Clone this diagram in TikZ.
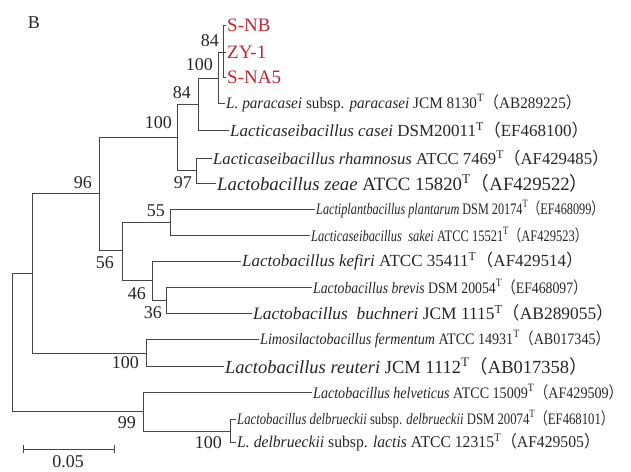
\documentclass[tikz,border=0pt]{standalone}
\usepackage{fontspec}
\setmainfont{Liberation Serif}
\newfontfamily\cjk{Noto Sans CJK SC}
\usepackage{graphicx}
\usetikzlibrary{positioning, arrows.meta}
\definecolor{strainred}{RGB}{190,40,50}
\definecolor{treegray}{RGB}{70,70,70}
\newcommand{\typestr}{\textsuperscript{T}}
\newcommand{\accnum}[1]{{\cjk （}#1{\cjk ）}}
\newcommand{\condtext}[2]{\scalebox{#1}[1]{#2}}
\tikzset{
    branch/.style={draw=treegray, line width=0.9pt},
    leaf/.style={anchor=west, inner sep=1pt, text=black!85, font=\fontsize{#1}{#1}\selectfont},
    strain/.style={anchor=west, inner sep=1pt, text=strainred, font=\fontsize{19}{19}\selectfont},
    boot/.style={inner sep=0pt, text=black!85, font=\fontsize{18}{18}\selectfont}
}

\begin{document}
\begin{tikzpicture}[x=1pt, y=-1pt]
        \useasboundingbox (0,0) rectangle (631,471);

        % Panel letter
        \node[boot] (panel) at (34,23) {B};

        % Internal nodes of the tree
        \coordinate (root) at (12,342);
        \coordinate (A) at (32,273);
        \coordinate (B) at (99,193);
        \coordinate (C) at (177,137);
        \coordinate (E) at (198,104);
        \coordinate (F) at (218,78);
        \coordinate (G) at (223,52);
        \coordinate (H) at (196,170);
        \coordinate (D) at (122,250);
        \coordinate (I) at (170,222);
        \coordinate (J) at (152,280);
        \coordinate (K) at (166,300);
        \coordinate (R) at (146,353);
        \coordinate (L) at (143,411);
        \coordinate (M) at (230,431);

        % Isolates of this study
        \node[strain] (snb) at (226,25) {S-NB};
        \node[strain] (zy) at (226,52) {ZY-1};
        \node[strain] (sna) at (226,77) {S-NA5};

        % Reference strains
        \node[leaf=16] (para) at (225,103) {\condtext{0.95}{\textit{L. paracasei} subsp. \textit{paracasei} JCM 8130\typestr\accnum{AB289225}}};
        \node[leaf=17] (casei) at (229,130) {\textit{Lacticaseibacillus casei} DSM20011\typestr\accnum{EF468100}};
        \node[leaf=16.7] (rham) at (212,158) {\textit{Lacticaseibacillus rhamnosus} ATCC 7469\typestr\accnum{AF429485}};
        \node[leaf=18.8] (zeae) at (216,183) {\textit{Lactobacillus zeae} ATCC 15820\typestr\accnum{AF429522}};
        \node[leaf=16] (plant) at (315,209) {\condtext{0.765}{\textit{Lactiplantbacillus plantarum} DSM 20174\typestr\accnum{EF468099}}};
        \node[leaf=16] (sakei) at (310,235) {\condtext{0.78}{\textit{Lacticaseibacillus\ \ sakei} ATCC 15521\typestr\accnum{AF429523}}};
        \node[leaf=17] (kefiri) at (241,261) {\textit{Lactobacillus kefiri} ATCC 35411\typestr\accnum{AF429514}};
        \node[leaf=16] (brevis) at (312,287) {\condtext{0.86}{\textit{Lactobacillus brevis} DSM 20054\typestr\accnum{EF468097}}};
        \node[leaf=17.4] (buch) at (252,313) {\textit{Lactobacillus\ \ buchneri} JCM 1115\typestr\accnum{AB289055}};
        \node[leaf=16] (ferm) at (259,339) {\condtext{0.88}{\textit{Limosilactobacillus fermentum} ATCC 14931\typestr\accnum{AB017345}}};
        \node[leaf=18.5] (reut) at (224,366) {\textit{Lactobacillus reuteri} JCM 1112\typestr\accnum{AB017358}};
        \node[leaf=16] (helv) at (312,392) {\condtext{0.88}{\textit{Lactobacillus helveticus} ATCC 15009\typestr\accnum{AF429509}}};
        \node[leaf=16] (delb) at (236,419) {\condtext{0.795}{\textit{Lactobacillus delbrueckii} subsp. \textit{delbrueckii} DSM 20074\typestr\accnum{EF468101}}};
        \node[leaf=16.5] (lactis) at (236,442) {\condtext{0.95}{\textit{L. delbrueckii} subsp. \textit{lactis} ATCC 12315\typestr\accnum{AF429505}}};

        % Branches
        \draw[branch] (root) |- (A) (root) |- (L);
        \draw[branch] (A) |- (B) (A) |- (R);
        \draw[branch] (B) |- (C) (B) |- (D);
        \draw[branch] (C) |- (E) (C) |- (H);
        \draw[branch] (E) |- (F) (E) |- (casei.west);
        \draw[branch] (F) |- (G) (F) |- (para.west);
        \draw[branch] (G) |- (snb.west) (G) |- (zy.west) (G) |- (sna.west);
        \draw[branch] (H) |- (rham.west) (H) |- (zeae.west);
        \draw[branch] (D) |- (I) (D) |- (J);
        \draw[branch] (I) |- (plant.west) (I) |- (sakei.west);
        \draw[branch] (J) |- (kefiri.west) (J) |- (K);
        \draw[branch] (K) |- (brevis.west) (K) |- (buch.west);
        \draw[branch] (R) |- (ferm.west) (R) |- (reut.west);
        \draw[branch] (L) |- (helv.west) (L) |- (M);
        \draw[branch] (M) |- (delb.west) (M) |- (lactis.west);

        % Bootstrap values
        \node[boot, above left=5pt and 4pt of G] (bsG) {84};
        \node[boot, above left=7pt and 5pt of F] (bsF) {100};
        \node[boot, above left=5pt and 7pt of E] (bsE) {84};
        \node[boot, above left=8pt and 5pt of C] (bsC) {100};
        \node[boot, above left=4pt and 7pt of B] (bsB) {96};
        \node[boot, above left=5pt and 5pt of I] (bsI) {55};
        \node[boot, below left=6pt and 8pt of D] (bsD) {56};
        \node[boot, below left=7pt and 6pt of J] (bsJ) {46};
        \node[boot, below left=6pt and 4pt of K] (bsK) {36};
        \node[boot, below left=6pt and 4pt of H] (bsH) {97};
        \node[boot, below left=3pt and 7pt of R] (bsR) {100};
        \node[boot, below left=5pt and 7pt of L] (bsL) {99};
        \node[boot, below left=5pt and 8pt of M] (bsM) {100};

        % Scale bar
        \coordinate (bar0) at (23,449);
        \coordinate (bar1) at (115,449);
        \draw[branch, {Bar[width=8pt]}-{Bar[width=8pt]}] (bar0) -- (bar1);
        \node[boot] (barlabel) at (68,462) {0.05};

    \end{tikzpicture}
\end{document}
